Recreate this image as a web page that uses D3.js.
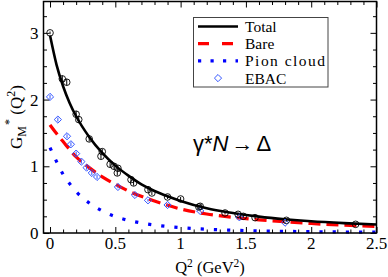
<!DOCTYPE html>
<html>
<head>
<meta charset="utf-8">
<script src="https://cdn.jsdelivr.net/npm/d3@7"></script>
<style>
  body { margin: 0; background: #fff; }
  svg { display: block; }
  text { font-family: "Liberation Serif", "Times New Roman", serif; fill: #000; }
</style>
</head>
<body>
<div id="chart"></div>
<script>
// model curves (Q^2, G_M*)
const totalCurve = [[0,2.96],[0.05,2.52],[0.1,2.2],[0.15,1.95],[0.2,1.75],[0.3,1.44],[0.4,1.2],[0.5,1.01],
  [0.6,0.86],[0.7,0.73],[0.8,0.63],[0.9,0.55],[1.0,0.48],[1.2,0.37],[1.4,0.3],[1.6,0.245],[1.8,0.205],
  [2.0,0.175],[2.25,0.148],[2.5,0.127]];
const bareCurve = [[0,1.62],[0.05,1.49],[0.1,1.37],[0.2,1.14],[0.3,0.98],[0.4,0.84],[0.5,0.73],[0.6,0.63],
  [0.8,0.48],[1.0,0.36],[1.2,0.285],[1.4,0.235],[1.6,0.197],[1.8,0.168],[2.0,0.142],[2.25,0.117],[2.5,0.097]];
const pionCurve = [[0,1.28],[0.05,1.07],[0.1,0.88],[0.15,0.74],[0.2,0.62],[0.3,0.45],[0.4,0.33],[0.5,0.245],
  [0.6,0.19],[0.7,0.15],[0.8,0.12],[0.9,0.097],[1.0,0.08],[1.2,0.056],[1.4,0.042],[1.6,0.032],[1.8,0.025],
  [2.0,0.02],[2.25,0.015],[2.5,0.012]];

// experimental data: Q^2, G_M*, error
const expData = [[0,3.0,0.02],[0.094,2.31,0.05],[0.128,2.26,0.05],[0.2,1.78,0.05],[0.22,1.7,0.05],
  [0.3,1.41,0.04],[0.39,1.15,0.04],[0.4,1.22,0.04],[0.46,1.03,0.04],[0.49,1.0,0.04],[0.515,0.9,0.04],
  [0.52,0.97,0.04],[0.62,0.8,0.04],[0.64,0.75,0.04],[0.75,0.65,0.03],[0.78,0.6,0.03],[0.9,0.54,0.03],
  [1.0,0.51,0.03],[1.14,0.39,0.03],[1.15,0.4,0.03],[1.34,0.3,0.02],[1.44,0.28,0.02],[1.48,0.25,0.02],
  [1.57,0.23,0.02],[1.81,0.19,0.02],[2.34,0.13,0.02]];

// EBAC points: Q^2, G_M*, error
const ebacData = [[0,2.04,0.03],[0.06,1.7,0.03],[0.13,1.45,0.03],[0.16,1.33,0.03],[0.2,1.19,0.03],
  [0.24,1.07,0.03],[0.28,0.98,0.03],[0.32,0.9,0.03],[0.36,0.84,0.03],[0.52,0.69,0.02],[0.65,0.57,0.02],
  [0.75,0.49,0.02],[0.9,0.42,0.02],[1.15,0.33,0.02],[1.45,0.235,0.02],[1.8,0.155,0.02]];

const xTicks = [0, 0.5, 1, 1.5, 2, 2.5];
const yTicks = [0, 1, 2, 3];
const legendNames = ["Total", "Bare", "Pion cloud", "EBAC"];

const W = 388, H = 277;
const svg = d3.select("#chart").append("svg").attr("width", W).attr("height", H);

const x = d3.scaleLinear().domain([-0.05, 2.5]).range([43.5, 376.5]);
const y = d3.scaleLinear().domain([0, 3.47]).range([233, 1.5]);
const [x0, x1] = x.range(), [y0, y1] = y.range();

// ticks pointing inwards on all four sides
const xMinor = d3.range(0, 2.501, 0.1).filter(v => !xTicks.some(t => Math.abs(t - v) < 1e-6));
const yMinor = d3.range(0, 3.47, 0.25).filter(v => !yTicks.some(t => Math.abs(t - v) < 1e-6));

function inward(axis, scale, vals, len) {
  return axis(scale).tickValues(vals).tickSizeInner(-len).tickSizeOuter(0).tickFormat("");
}
const axes = svg.append("g");
[[xTicks, 6], [xMinor, 3.5]].forEach(([v, l]) => {
  axes.append("g").attr("transform", `translate(0,${y0})`).call(inward(d3.axisBottom, x, v, l));
  axes.append("g").attr("transform", `translate(0,${y1})`).call(inward(d3.axisTop, x, v, l));
});
[[yTicks, 6], [yMinor, 3.5]].forEach(([v, l]) => {
  axes.append("g").attr("transform", `translate(${x0},0)`).call(inward(d3.axisLeft, y, v, l));
  axes.append("g").attr("transform", `translate(${x1},0)`).call(inward(d3.axisRight, y, v, l));
});
axes.selectAll(".domain").remove();
axes.selectAll("line").attr("stroke", "#000").attr("stroke-width", 1);

// tick labels
svg.append("g").selectAll("text").data(xTicks).join("text")
  .attr("x", d => x(d)).attr("y", y0 + 16)
  .attr("text-anchor", "middle").attr("font-size", 17)
  .text(d => d);
svg.append("g").selectAll("text").data(yTicks).join("text")
  .attr("x", x0 - 5).attr("y", d => y(d) + 6)
  .attr("text-anchor", "end").attr("font-size", 17)
  .text(d => d);

const plot = svg.append("g");
const line = d3.line().x(d => x(d[0])).y(d => y(d[1])).curve(d3.curveMonotoneX);

plot.append("path").datum(pionCurve).attr("d", line)
  .attr("fill", "none").attr("stroke", "#0000ff").attr("stroke-width", 3.2)
  .attr("stroke-dasharray", "3.2,10");
plot.append("path").datum(bareCurve).attr("d", line)
  .attr("fill", "none").attr("stroke", "#ff0000").attr("stroke-width", 3.2)
  .attr("stroke-dasharray", "12,6");
plot.append("path").datum(totalCurve).attr("d", line)
  .attr("fill", "none").attr("stroke", "#000").attr("stroke-width", 2.6);

// EBAC diamonds with error bars
const diamond = (cx, cy, r) => `M${cx},${cy - r}L${cx + r},${cy}L${cx},${cy + r}L${cx - r},${cy}Z`;
const eb = plot.append("g");
eb.selectAll("line").data(ebacData).join("line")
  .attr("x1", d => x(d[0])).attr("x2", d => x(d[0]))
  .attr("y1", d => y(d[1] - d[2])).attr("y2", d => y(d[1] + d[2]))
  .attr("stroke", "#3355ff").attr("stroke-width", 1);
eb.selectAll("path").data(ebacData).join("path")
  .attr("d", d => diamond(x(d[0]), y(d[1]), 3.6))
  .attr("fill", "none").attr("stroke", "#3355ff").attr("stroke-width", 1);

// experimental circles with error bars
const ex = plot.append("g");
ex.selectAll("line").data(expData).join("line")
  .attr("x1", d => x(d[0])).attr("x2", d => x(d[0]))
  .attr("y1", d => y(d[1] - d[2])).attr("y2", d => y(d[1] + d[2]))
  .attr("stroke", "#000").attr("stroke-width", 1);
ex.selectAll("circle").data(expData).join("circle")
  .attr("cx", d => x(d[0])).attr("cy", d => y(d[1])).attr("r", 3.3)
  .attr("fill", "none").attr("stroke", "#000").attr("stroke-width", 0.9);

// frame
svg.append("rect").attr("x", x0).attr("y", y1).attr("width", x1 - x0).attr("height", y0 - y1)
  .attr("fill", "none").attr("stroke", "#000").attr("stroke-width", 1.5);

// legend
const lg = svg.append("g");
lg.append("rect").attr("x", 193.5).attr("y", 17.5).attr("width", 134.5).attr("height", 69.5)
  .attr("fill", "#fff").attr("stroke", "#444").attr("stroke-width", 1);
const rowY = [26.5, 43.7, 60.9, 78.1];
lg.append("line").attr("x1", 198).attr("x2", 238).attr("y1", rowY[0]).attr("y2", rowY[0])
  .attr("stroke", "#000").attr("stroke-width", 2.6);
lg.append("line").attr("x1", 198).attr("x2", 238).attr("y1", rowY[1]).attr("y2", rowY[1])
  .attr("stroke", "#ff0000").attr("stroke-width", 3.2).attr("stroke-dasharray", "11,13");
lg.append("line").attr("x1", 198).attr("x2", 238).attr("y1", rowY[2]).attr("y2", rowY[2])
  .attr("stroke", "#0000ff").attr("stroke-width", 3.2).attr("stroke-dasharray", "3.2,9.3");
lg.append("path").attr("d", diamond(218, rowY[3], 3.6))
  .attr("fill", "none").attr("stroke", "#3355ff").attr("stroke-width", 1);
lg.selectAll("text").data(legendNames).join("text")
  .attr("x", 245).attr("y", (d, i) => rowY[i] + 5.5)
  .attr("font-size", 15.5).attr("textLength", d => d === "Pion cloud" ? 80 : null)
  .text(d => d);

// axis titles
const xt = svg.append("text").attr("x", 210).attr("y", 273)
  .attr("text-anchor", "middle").attr("font-size", 16.5);
xt.append("tspan").text("Q");
xt.append("tspan").attr("font-size", 11.5).attr("dy", -6).text("2");
xt.append("tspan").attr("dy", 6).text(" (GeV");
xt.append("tspan").attr("font-size", 11.5).attr("dy", -6).text("2");
xt.append("tspan").attr("dy", 6).text(")");

const yt = svg.append("text").attr("transform", "translate(22,117) rotate(-90)")
  .attr("text-anchor", "middle").attr("font-size", 17);
yt.append("tspan").text("G");
yt.append("tspan").attr("font-size", 12).attr("dy", 4).text("M");
yt.append("tspan").attr("font-size", 12).attr("dy", -13).attr("dx", 1).text("*");
yt.append("tspan").attr("dy", 9).text(" (Q");
yt.append("tspan").attr("font-size", 12).attr("dy", -7).text("2");
yt.append("tspan").attr("dy", 7).text(")");

// reaction label
const rl = svg.append("text").attr("x", 193).attr("y", 151)
  .style("font-family", "'Liberation Sans', Arial, sans-serif").attr("font-size", 22);
rl.append("tspan").text("γ*");
rl.append("tspan").attr("font-style", "italic").text("N");
rl.append("tspan").attr("dx", 3).text("→");
rl.append("tspan").attr("dx", 3).text("Δ");
</script>
</body>
</html>
